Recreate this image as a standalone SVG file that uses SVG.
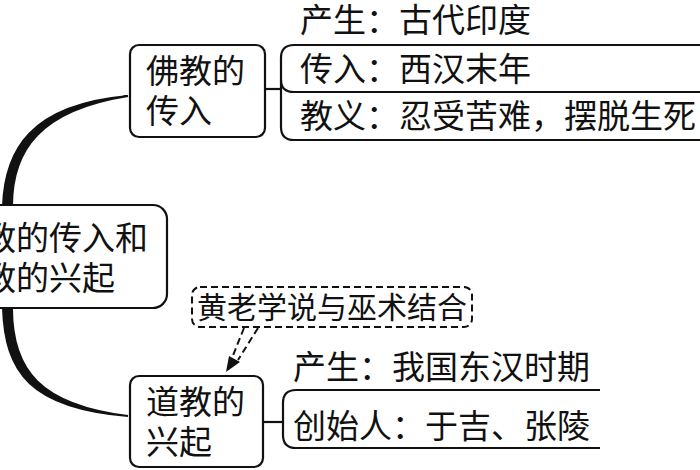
<svg xmlns="http://www.w3.org/2000/svg" width="700" height="470" viewBox="0 0 700 470">
<style>
text{font-family:"Liberation Serif","Noto Sans CJK SC",serif;font-size:33px;fill:#111}
.box{fill:#fff;stroke:#111;stroke-width:2.2}
.ln{fill:none;stroke:#111;stroke-width:2.2}
.dash{fill:none;stroke:#111;stroke-width:2;stroke-dasharray:7 4}
</style>
<rect width="700" height="470" fill="#fff"/>
<g id="connectors">
<path d="M128,96 C40,110 12,150 12,206 L3,206 C5,150 30,105 128,96 Z" fill="#111" stroke="#111" stroke-width="2"/>
<path d="M128,416 C40,405 12,370 12,308 L3,308 C5,372 30,408 128,416 Z" fill="#111" stroke="#111" stroke-width="2"/>
<path class="ln" d="M265,89 H280"/>
<path class="ln" d="M700,45 H294 Q281,45 281,58 V127 Q281,140 294,140 H700"/>
<path class="ln" d="M281,80 Q281,92 294,92 H700"/>
<path class="ln" d="M263,422 H282"/>
<path class="ln" d="M600,390 H296 Q283,390 283,403 V435 Q283,448 296,448 H600"/>
<path class="dash" d="M244,328 L232,358 M258,328 L238,360"/>
<path d="M226,372 L229,356 L240,362 Z" fill="#111"/>
</g>
<g id="center">
<rect class="box" x="-20" y="205" width="187" height="103" rx="14"/>
<text x="-50" y="250">佛教的传入和</text>
<text x="-50" y="290">道教的兴起</text>
</g>
<g id="fojiao">
<rect class="box" x="130" y="45" width="135" height="92" rx="9"/>
<text x="146" y="83">佛教的</text>
<text x="146" y="123">传入</text>
</g>
<g id="daojiao">
<rect class="box" x="130" y="376" width="133" height="91" rx="9"/>
<text x="146" y="414">道教的</text>
<text x="146" y="454">兴起</text>
</g>
<g id="fo-items">
<text x="300" y="32">产生：古代印度</text>
<text x="300" y="81">传入：西汉末年</text>
<text x="300" y="128">教义：忍受苦难，摆脱生死</text>
</g>
<g id="dao-items">
<text x="293" y="379">产生：我国东汉时期</text>
<text x="293" y="438">创始人：于吉、张陵</text>
</g>
<g id="note">
<rect class="dash" x="192" y="287" width="280" height="40" rx="8"/>
<text x="197" y="318" style="font-size:30px">黄老学说与巫术结合</text>
</g>
</svg>
